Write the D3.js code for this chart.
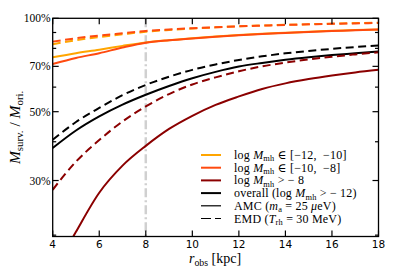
<!DOCTYPE html>
<html>
<head>
<meta charset="utf-8">
<script src="https://cdn.jsdelivr.net/npm/d3@7"></script>
<style>
body { margin: 0; background: #fff; }
svg { display: block; }
</style>
</head>
<body>
<div id="chart"></div>
<script>
// r_obs grid (kpc)
var rObs = [4, 5, 6, 7, 8, 9, 10, 11, 12, 13, 14, 15, 16, 17, 18];

// surviving mass fraction, AMC (solid)
var amcLow  = [0.749, 0.772, 0.792, 0.815, 0.836, 0.850, 0.862, 0.873, 0.883, 0.891, 0.898, 0.905, 0.911, 0.916, 0.921];
var amcMid  = [0.712, 0.745, 0.772, 0.805, 0.834, 0.849, 0.861, 0.872, 0.882, 0.890, 0.897, 0.904, 0.910, 0.915, 0.920];
var amcHigh = [0.150, 0.205, 0.274, 0.335, 0.388, 0.440, 0.485, 0.526, 0.560, 0.592, 0.617, 0.637, 0.654, 0.669, 0.682];
var amcAll  = [0.382, 0.435, 0.483, 0.527, 0.567, 0.605, 0.641, 0.672, 0.699, 0.718, 0.735, 0.749, 0.761, 0.771, 0.781];

// surviving mass fraction, EMD (dashed)
var emdLow  = [0.825, 0.850, 0.870, 0.888, 0.905, 0.917, 0.927, 0.935, 0.942, 0.948, 0.953, 0.957, 0.961, 0.965, 0.968];
var emdMid  = [0.841, 0.862, 0.880, 0.895, 0.910, 0.920, 0.929, 0.936, 0.942, 0.947, 0.952, 0.956, 0.960, 0.963, 0.966];
var emdHigh = [0.280, 0.345, 0.405, 0.465, 0.520, 0.570, 0.612, 0.645, 0.675, 0.700, 0.720, 0.737, 0.752, 0.765, 0.777];
var emdAll  = [0.406, 0.463, 0.514, 0.565, 0.610, 0.648, 0.682, 0.710, 0.734, 0.754, 0.771, 0.785, 0.797, 0.808, 0.818];

var xTicks = [4, 6, 8, 10, 12, 14, 16, 18];
var yMajor = [0.3, 0.5, 0.7, 1.0];
var yMinor = [0.2, 0.4, 0.6, 0.8, 0.9];
var yLabels = ["30%", "50%", "70%", "100%"];
var rMark = 8;

var W = 407, H = 271;
var L = 52.7, R = 378.5, T = 18.3, B = 236.5;
var serif = "'Liberation Serif', 'DejaVu Serif', serif";
var sans = "'DejaVu Sans', sans-serif";

var svg = d3.select("#chart").append("svg")
	.attr("width", W)
	.attr("height", H);

var x = d3.scaleLinear().domain([4, 18]).range([L, R]);
var y = d3.scaleLog().domain([0.198, 1]).range([B, T]);

svg.append("clipPath").attr("id", "clip")
	.append("rect")
	.attr("x", L).attr("y", T)
	.attr("width", R - L).attr("height", B - T);

var plot = svg.append("g").attr("clip-path", "url(#clip)");

// observer position marker
plot.append("line")
	.attr("x1", x(rMark)).attr("x2", x(rMark))
	.attr("y1", T).attr("y2", B)
	.style("stroke", "#d0d0d0")
	.style("stroke-width", 2.5)
	.style("stroke-dasharray", "9,3,2,3");

var line = d3.line()
	.x(function (d, i) { return x(rObs[i]); })
	.y(function (d) { return y(d); })
	.curve(d3.curveMonotoneX);

var series = [
	{ v: amcLow,  c: "#ffa500", dash: null },
	{ v: amcMid,  c: "#ff4a0f", dash: null },
	{ v: amcHigh, c: "#8b0000", dash: null },
	{ v: amcAll,  c: "#000000", dash: null },
	{ v: emdLow,  c: "#ffa500", dash: "8,4.5" },
	{ v: emdMid,  c: "#ff4a0f", dash: "8,4.5" },
	{ v: emdHigh, c: "#8b0000", dash: "8,4.5" },
	{ v: emdAll,  c: "#000000", dash: "8,4.5" }
];

series.forEach(function (s) {
	plot.append("path")
		.attr("d", line(s.v))
		.style("fill", "none")
		.style("stroke", s.c)
		.style("stroke-width", 2)
		.style("stroke-dasharray", s.dash);
});

// frame
svg.append("rect")
	.attr("x", L).attr("y", T)
	.attr("width", R - L).attr("height", B - T)
	.style("fill", "none")
	.style("stroke", "#000")
	.style("stroke-width", 1.3);

// inward ticks on all four sides
var ticks = svg.append("g").style("stroke", "#000").style("stroke-width", 1.2);
xTicks.forEach(function (t) {
	ticks.append("line").attr("x1", x(t)).attr("x2", x(t)).attr("y1", B).attr("y2", B - 6);
	ticks.append("line").attr("x1", x(t)).attr("x2", x(t)).attr("y1", T).attr("y2", T + 6);
});
yMajor.forEach(function (t) {
	ticks.append("line").attr("x1", L).attr("x2", L + 6).attr("y1", y(t)).attr("y2", y(t));
	ticks.append("line").attr("x1", R).attr("x2", R - 6).attr("y1", y(t)).attr("y2", y(t));
});
yMinor.forEach(function (t) {
	ticks.append("line").attr("x1", L).attr("x2", L + 3.5).attr("y1", y(t)).attr("y2", y(t));
	ticks.append("line").attr("x1", R).attr("x2", R - 3.5).attr("y1", y(t)).attr("y2", y(t));
});

// tick labels
xTicks.forEach(function (t) {
	svg.append("text")
		.attr("x", x(t)).attr("y", B + 11)
		.attr("text-anchor", "middle")
		.style("font-family", sans)
		.style("font-size", "10.5px")
		.text(t);
});
yMajor.forEach(function (t, i) {
	svg.append("text")
		.attr("x", L - 2).attr("y", y(t) + 4)
		.attr("text-anchor", "end")
		.style("font-family", serif)
		.style("font-size", "11.5px")
		.text(yLabels[i]);
});

// rich text: array of [string, kind] where kind is "" | "i" | "sub"
// subscripts are dropped with dy and the next part brings the baseline back
function rich(g, parts, size) {
	var txt = g.append("text")
		.style("font-family", serif)
		.style("font-size", size + "px");
	var shift = 0;
	parts.forEach(function (p) {
		var ts = txt.append("tspan").text(p[0]);
		if (p[1] === "i") ts.style("font-style", "italic");
		if (p[1] === "sub") {
			var d = size * 0.2;
			ts.style("font-size", (size * 0.7) + "px").attr("dy", d - shift);
			shift = d;
		} else if (shift) {
			ts.attr("dy", -shift);
			shift = 0;
		}
	});
	return txt;
}

// axis labels
rich(svg.append("g"), [["r", "i"], ["obs", "sub"], [" [kpc]", ""]], 14)
	.attr("x", 215).attr("y", 263)
	.attr("text-anchor", "middle");

rich(svg.append("g").attr("transform", "translate(20," + ((T + B) / 2) + ") rotate(-90)"),
	[["M", "i"], ["surv.", "sub"], [" / ", ""], ["M", "i"], ["ori.", "sub"]], 15.5)
	.attr("x", 0).attr("y", 0)
	.attr("text-anchor", "middle");

// legend
var legend = [
	{ c: "#ffa500", w: 2, dash: null, parts: [["log ", ""], ["M", "i"], ["mh", "sub"], [" \u2208 [\u221212,  \u221210]", ""]] },
	{ c: "#ff4a0f", w: 2, dash: null, parts: [["log ", ""], ["M", "i"], ["mh", "sub"], [" \u2208 [\u221210,  \u22128]", ""]] },
	{ c: "#8b0000", w: 2, dash: null, parts: [["log ", ""], ["M", "i"], ["mh", "sub"], [" > \u2212 8", ""]] },
	{ c: "#000000", w: 2, dash: null, parts: [["overall (log ", ""], ["M", "i"], ["mh", "sub"], [" > \u2212 12)", ""]] },
	{ c: "#000000", w: 1.2, dash: null, parts: [["AMC (", ""], ["m", "i"], ["a", "sub"], [" = 25 ", ""], ["\u03bc", "i"], ["eV)", ""]] },
	{ c: "#000000", w: 1.2, dash: "10,4", parts: [["EMD (", ""], ["T", "i"], ["rh", "sub"], [" = 30 MeV)", ""]] }
];

var lg = svg.append("g");
legend.forEach(function (d, i) {
	var yy = 155 + i * 12.7;
	lg.append("line")
		.attr("x1", 201).attr("x2", 221)
		.attr("y1", yy).attr("y2", yy)
		.style("stroke", d.c)
		.style("stroke-width", d.w)
		.style("stroke-dasharray", d.dash);
	rich(lg, d.parts, 12)
		.attr("x", 234).attr("y", yy + 4)
		.style("white-space", "pre")
		.style("letter-spacing", "0.2px");
});
</script>
</body>
</html>
